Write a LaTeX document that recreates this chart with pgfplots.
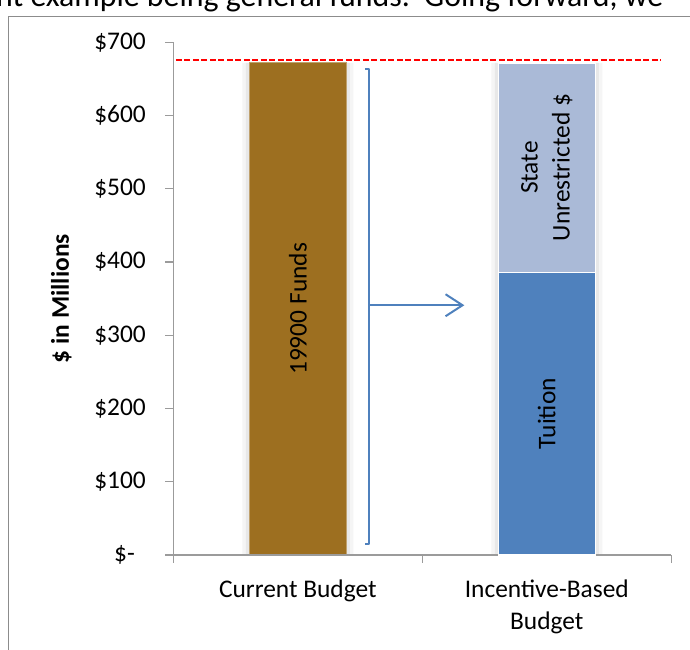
\documentclass[border=0pt]{standalone}
\usepackage{pgfplots}
\pgfplotsset{compat=1.18}
\usepackage{fontspec}
\setmainfont{Carlito}
\usetikzlibrary{arrows.meta}
\definecolor{brownbar}{RGB}{157,111,32}
\definecolor{tuition}{RGB}{79,129,189}
\definecolor{stateu}{RGB}{170,186,215}
\definecolor{axisgray}{RGB}{155,155,155}
\definecolor{framegray}{RGB}{140,140,140}
\newcommand{\cf}{\fontsize{25.5}{32}\selectfont}
\pgfplotsset{base/.style={scale only axis, width=498bp, height=512.7bp,
  at={(173.3bp,95bp)}, anchor=south west,
  xmin=-0.5, xmax=1.5, ymin=0, ymax=700}}
\begin{document}
\begin{tikzpicture}
\useasboundingbox (0bp,0bp) rectangle (690bp,650bp);
\begin{scope}
\clip (0bp,0bp) rectangle (690bp,650bp);
\node[anchor=base west, inner sep=0pt, font=\fontsize{32}{38}\selectfont] at (-4bp,643bp) {nt example being general funds.\ \ Going forward, we};
\end{scope}
\draw[framegray, line width=1.5bp] (8.3bp,0bp) -- (8.3bp,633.3bp) -- (700bp,633.3bp);
% shadows, brown bar and reference line
\begin{axis}[base, hide axis, ybar, clip=false]
\addplot[fill=black!4, draw=none, bar width=111bp, bar shift=0pt] coordinates {(0,672) (1,672)};
\addplot[fill=black!9, draw=none, bar width=104bp, bar shift=0pt] coordinates {(0,672) (1,672)};
\addplot[fill=brownbar, draw=brownbar!65!white, line width=1bp, bar width=97bp, bar shift=0pt] coordinates {(0,672)};
\addplot[sharp plot, no marks, red, line width=1.5bp, dash pattern=on 6bp off 2.5bp] coordinates {(-0.49,676) (1.46,676)};
\end{axis}
% main axis with stacked bar
\begin{axis}[base, ybar stacked, bar width=97bp, clip=false,
  axis x line=bottom, axis y line=left,
  axis line style={axisgray, line width=1.3bp, -},
  tick align=outside, major tick length=8bp,
  tick style={axisgray, line width=1.3bp},
  ytick={0,100,200,300,400,500,600,700},
  yticklabels={\$-\kern11bp,\$100,\$200,\$300,\$400,\$500,\$600,\$700},
  yticklabel style={xshift=-16bp},
  xtick={-0.5,0.5,1.5}, xticklabels={},
  extra x ticks={0,1},
  extra x tick labels={Current Budget,{Incentive-Based\\Budget}},
  extra x tick style={major tick length=0pt, tick label style={align=center, yshift=-21bp}},
  tick label style={font=\cf},
  ylabel={\$ in Millions},
  ylabel style={font=\cf\bfseries, at={(axis description cs:-0.2249,0.5)}, anchor=center},
]
\addplot[fill=tuition, draw=white, line width=1.5bp] coordinates {(1,386)};
\addplot[fill=stateu, draw=white, line width=1.5bp] coordinates {(1,286)};
\end{axis}
% labels and annotations on top
\begin{axis}[base, hide axis, clip=false]
\node[rotate=90, font=\cf] at (axis cs:0,336) {19900 Funds};
\node[rotate=90, font=\cf] at (axis cs:1,193) {Tuition};
\node[rotate=90, font=\cf, align=center] at (axis cs:1,529) {State\\Unrestricted \$};
\draw[tuition, line width=2bp, line join=round]
  ([xshift=-4bp]axis cs:0.287,663) -- (axis cs:0.287,663) -- (axis cs:0.287,15) -- ([xshift=-4bp]axis cs:0.287,15);
\draw[tuition, line width=2bp, -{Straight Barb[length=17bp,width=22bp]}]
  (axis cs:0.287,341) -- (axis cs:0.669,341);
\end{axis}
\end{tikzpicture}
\end{document}
